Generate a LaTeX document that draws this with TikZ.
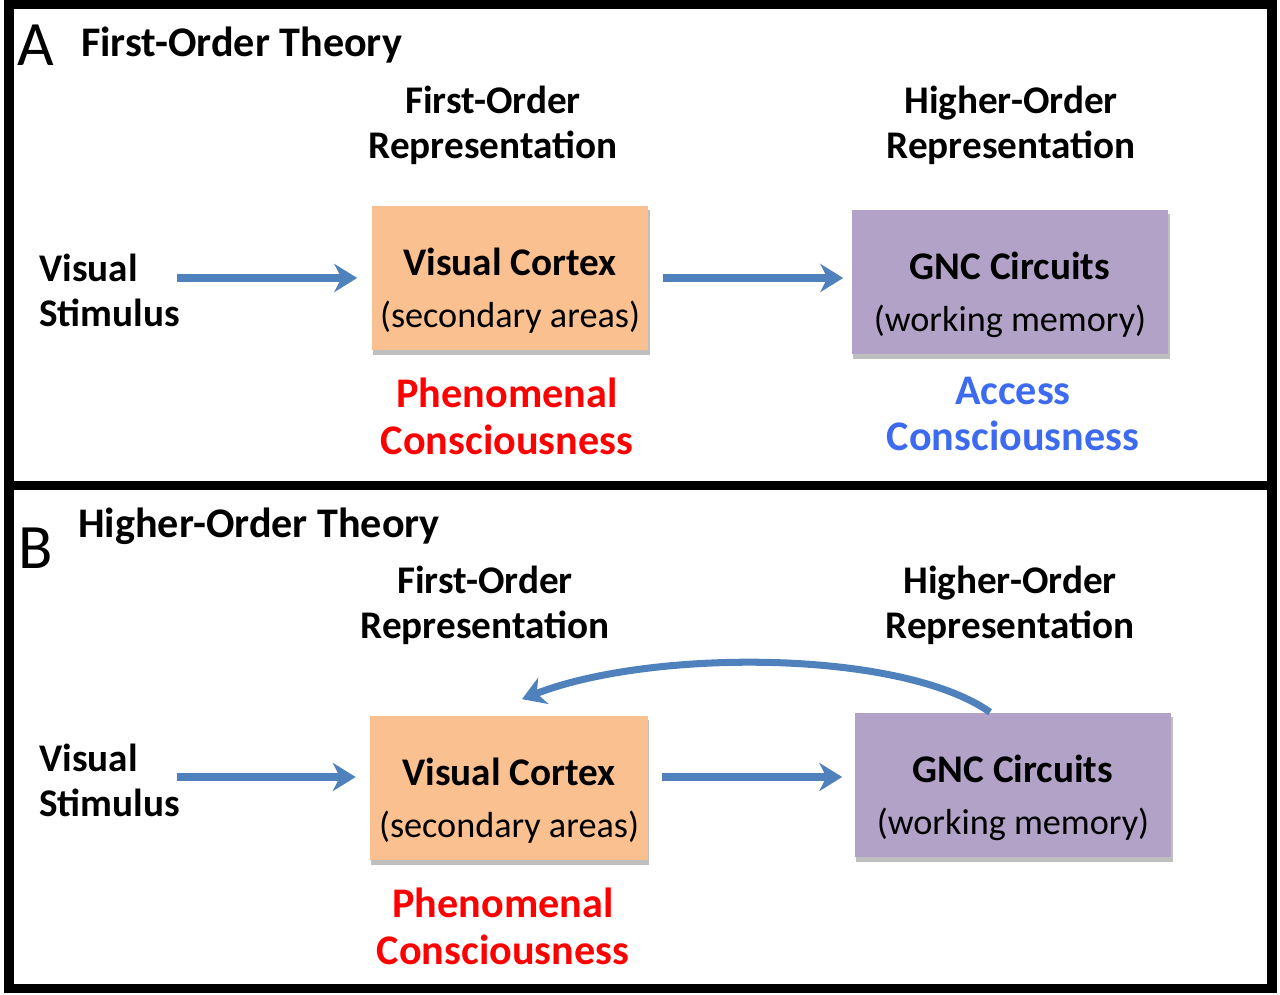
\documentclass[tikz,border=0pt]{standalone}
\usepackage{fontspec}
\setmainfont{Carlito}
\usepackage{xcolor}
\usepackage{tikz}
\usetikzlibrary{positioning,calc,arrows.meta,shadows}

\definecolor{boxorange}{HTML}{FAC090}
\definecolor{boxpurple}{HTML}{B3A2C7}
\definecolor{arrowblue}{HTML}{4F81BD}
\definecolor{accessblue}{HTML}{3D6BF0}
\newcommand{\midfont}{\fontsize{22.3}{25.6}\selectfont}
\newcommand{\bigfont}{\fontsize{24}{26.7}\selectfont}
\newcommand{\boxtext}[2]{\rule{0pt}{30pt}#1\\[4pt]{\mdseries\fontsize{20.6}{25.6}\selectfont #2}}

\begin{document}
\begin{tikzpicture}[x=0.02cm, y=0.02cm,
    panel/.style={line width=5.5pt},
    letter/.style={font=\fontsize{36}{36}\selectfont},
    lbl/.style={font=\midfont\bfseries, align=center},
    head/.style={font=\bigfont\bfseries, align=center},
    box/.style={lbl, minimum height=2.9cm, inner sep=0pt,
        drop shadow={shadow xshift=0.8pt, shadow yshift=-2.5pt, opacity=0.5}},
    link/.style={arrowblue, line width=4pt, -{Stealth[length=13pt,width=16pt,inset=4pt]}}]
    \useasboundingbox (0,0) rectangle (1280,994);
    \draw [panel] (9,989.5) rectangle (1272,508.5);
    \draw [panel] (9,508.5) rectangle (1272,5.5);

    % Panel A
    \node [letter] (letA) at (36,949) {A};
    \node [head, anchor=west] (titleA) at (75,949) {First-Order Theory};
    \node [lbl] (foA) at (493,869) {First-Order\\Representation};
    \node [lbl] (hoA) at (1011,869) {Higher-Order\\Representation};
    \node [lbl, align=left, anchor=west] (stimA) at (33,704) {Visual\\Stimulus};
    \node [box, fill=boxorange, minimum width=5.54cm] (vcA) at (510,716)
        {\boxtext{Visual Cortex}{(secondary areas)}};
    \node [box, fill=boxpurple, minimum width=6.34cm] (gncA) at (1010,712)
        {\boxtext{GNC Circuits}{(working memory)}};
    \node [head, text=red] (phA) at (507,578) {Phenomenal\\Consciousness};
    \node [head, text=accessblue] (acA) at (1013,580) {Access\\Consciousness};
    \draw [link, shorten <=-0.18cm] (stimA.east |- vcA.west) -- ([xshift=-0.28cm]vcA.west);
    \draw [link] ([xshift=0.28cm]vcA.east) -- ([xshift=-0.16cm]gncA.west |- vcA.east);

    % Panel B
    \node [letter] (letB) at (36,446) {B};
    \node [head, anchor=west] (titleB) at (72,468) {Higher-Order Theory};
    \node [lbl] (foB) at (485,389) {First-Order\\Representation};
    \node [lbl] (hoB) at (1010,389) {Higher-Order\\Representation};
    \node [lbl, align=left, anchor=west] (stimB) at (33,214) {Visual\\Stimulus};
    \node [box, fill=boxorange, minimum width=5.56cm] (vcB) at (509,206)
        {\boxtext{Visual Cortex}{(secondary areas)}};
    \node [box, fill=boxpurple, minimum width=6.34cm] (gncB) at (1013,209)
        {\boxtext{GNC Circuits}{(working memory)}};
    \node [head, text=red] (phB) at (503,68) {Phenomenal\\Consciousness};
    \draw [link, shorten <=-0.18cm] ($(stimB.east |- vcB.west)+(0,11)$) -- ($(vcB.west)+(-14,11)$);
    \draw [link] ($(vcB.east)+(14,11)$) -- ($(gncB.west |- vcB.east)+(-12,11)$);
    \draw [link] ([xshift=-0.46cm]gncB.north) .. controls (900,345) and (650,345)
        .. ([xshift=0.26cm, yshift=0.32cm]vcB.north);
\end{tikzpicture}
\end{document}
